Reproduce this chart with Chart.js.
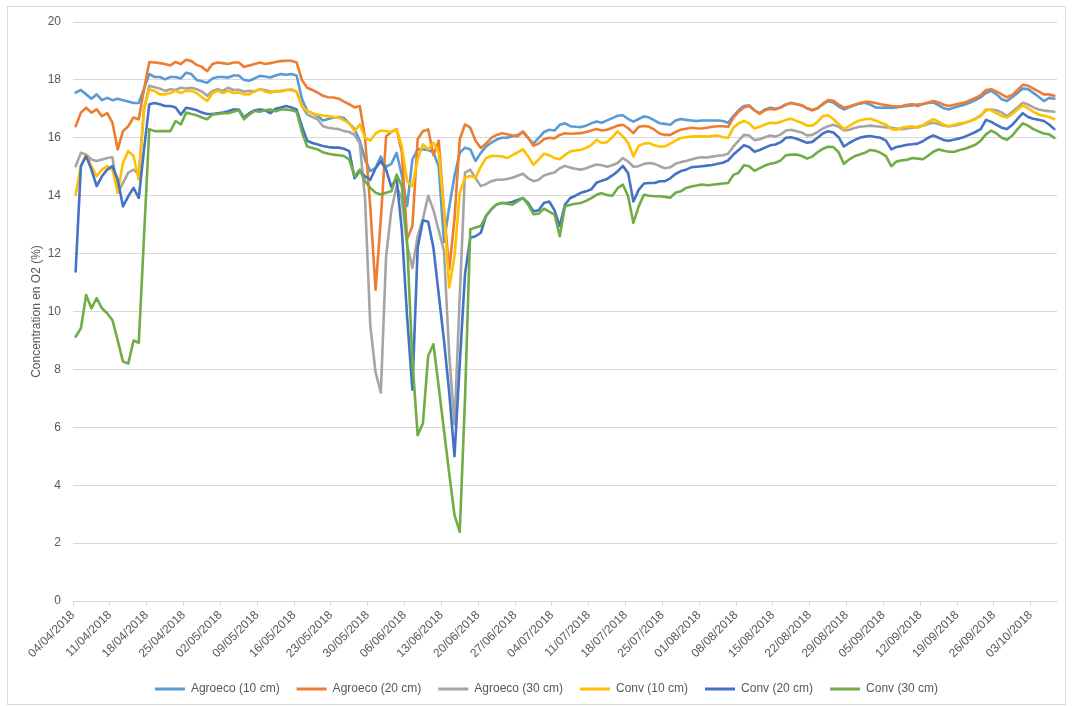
<!DOCTYPE html>
<html>
<head>
<meta charset="utf-8">
<title>Concentration en O2</title>
<script src="https://cdn.jsdelivr.net/npm/chart.js@4.4.1/dist/chart.umd.min.js"></script>
<style>
    html, body { margin: 0; padding: 0; background: #fff; }
    #wrap { position: relative; width: 1073px; height: 706px; }
    #frame {
        position: absolute; left: 7px; top: 6px; width: 1059px; height: 699px;
        border: 1px solid #d9d9d9; box-sizing: border-box;
    }
    #o2Chart { position: absolute; left: 0; top: 0; }
</style>
</head>
<body>
<div id="wrap">
    <div id="frame"></div>
    <canvas id="o2Chart" width="1073" height="706"></canvas>
</div>
<script>
// Daily O2 readings (%), one value per day starting 04/04/2018
const agroeco10 = [
    17.56, 17.65, 17.5, 17.35, 17.5, 17.3, 17.38, 17.3, 17.35, 17.3,
    17.25, 17.2, 17.2, 17.7, 18.2, 18.1, 18.1, 18.02, 18.1, 18.1,
    18.05, 18.25, 18.2, 18.0, 17.95, 17.9, 18.05, 18.1, 18.1, 18.08,
    18.15, 18.15, 18.0, 17.97, 18.05, 18.14, 18.12, 18.08, 18.15, 18.2,
    18.18, 18.2, 18.15, 17.35, 16.93, 16.85, 16.75, 16.6, 16.65, 16.7,
    16.72, 16.68, 16.5, 16.3, 15.9, 15.25, 14.85, 14.96, 15.35, 15.0,
    15.1, 15.48, 14.7, 13.64, 15.25, 15.6, 15.6, 15.58, 15.5, 15.0,
    12.4, 13.6, 14.68, 15.48, 15.66, 15.6, 15.2, 15.48, 15.7, 15.83,
    15.94, 16.0, 16.0, 16.05, 16.1, 16.2, 16.0, 15.8, 16.0, 16.2,
    16.28, 16.25, 16.45, 16.5, 16.4, 16.38, 16.37, 16.42, 16.5, 16.56,
    16.52, 16.6, 16.68, 16.76, 16.78, 16.65, 16.56, 16.65, 16.74, 16.7,
    16.6, 16.5, 16.48, 16.45, 16.6, 16.65, 16.62, 16.6, 16.58, 16.6,
    16.6, 16.6, 16.6, 16.58, 16.52, 16.75, 16.95, 17.1, 17.12, 16.95,
    16.85, 16.98, 17.04, 17.0, 17.05, 17.15, 17.2, 17.16, 17.12, 17.02,
    16.95, 17.02, 17.15, 17.27, 17.22, 17.08, 16.98, 17.05, 17.12, 17.18,
    17.21, 17.15, 17.05, 17.04, 17.05, 17.03, 17.05, 17.08, 17.1, 17.12,
    17.15, 17.17, 17.2, 17.22, 17.12, 17.02, 16.98, 17.05, 17.1, 17.15,
    17.22, 17.3, 17.4, 17.55, 17.62, 17.5, 17.33, 17.27, 17.4, 17.55,
    17.7, 17.68, 17.55, 17.42, 17.27, 17.38, 17.35
];

const agroeco20 = [
    16.4, 16.87, 17.04, 16.87, 16.98, 16.75, 16.85, 16.52, 15.6, 16.23,
    16.4, 16.7, 16.64, 17.68, 18.62, 18.6, 18.58, 18.55, 18.5, 18.62,
    18.55, 18.7, 18.65, 18.52, 18.45, 18.3, 18.55, 18.6, 18.58, 18.55,
    18.6, 18.6, 18.45, 18.5, 18.55, 18.6, 18.55, 18.58, 18.62, 18.65,
    18.66, 18.66, 18.6, 18.0, 17.73, 17.65, 17.56, 17.45, 17.4, 17.39,
    17.35, 17.25, 17.16, 17.05, 17.1, 16.0, 13.6, 10.75, 13.2, 16.05,
    16.2, 16.3, 15.5, 12.5, 12.95, 15.95, 16.23, 16.29, 15.4, 15.9,
    13.5, 11.45, 13.2, 15.95, 16.46, 16.35, 15.9, 15.65, 15.8, 16.0,
    16.1, 16.16, 16.12, 16.08, 16.05, 16.22, 16.0, 15.72, 15.8, 15.95,
    16.0, 15.98, 16.1, 16.16, 16.14, 16.15, 16.16, 16.2, 16.25, 16.3,
    16.25, 16.28, 16.35, 16.42, 16.45, 16.33, 16.16, 16.38, 16.41, 16.38,
    16.28, 16.15, 16.1, 16.1, 16.2, 16.28, 16.31, 16.35, 16.33, 16.32,
    16.35, 16.38, 16.4, 16.4, 16.38, 16.7, 16.9, 17.05, 17.1, 16.95,
    16.82, 16.95, 17.0, 16.98, 17.05, 17.15, 17.21, 17.16, 17.12, 17.02,
    16.95, 17.02, 17.18, 17.3, 17.28, 17.15, 17.04, 17.08, 17.14, 17.2,
    17.24, 17.24, 17.2, 17.16, 17.13, 17.1, 17.08, 17.1, 17.14, 17.16,
    17.1, 17.17, 17.22, 17.27, 17.22, 17.14, 17.1, 17.14, 17.18, 17.22,
    17.3, 17.38, 17.47, 17.65, 17.68, 17.6, 17.5, 17.4, 17.48, 17.65,
    17.83, 17.8, 17.7, 17.6, 17.5, 17.5, 17.45
];

const agroeco30 = [
    15.02, 15.48, 15.42, 15.25, 15.2, 15.25, 15.3, 15.33, 14.1, 14.44,
    14.8, 14.9, 14.75, 17.0, 17.8, 17.75, 17.7, 17.62, 17.68, 17.65,
    17.73, 17.7, 17.73, 17.68, 17.6, 17.45, 17.62, 17.68, 17.62, 17.73,
    17.65, 17.66, 17.6, 17.62, 17.6, 17.68, 17.65, 17.6, 17.6, 17.62,
    17.65, 17.65, 17.6, 17.1, 16.8, 16.72, 16.64, 16.4, 16.35, 16.32,
    16.3, 16.23, 16.2, 16.1, 15.8, 13.9, 9.5, 7.9, 7.2, 11.9,
    13.5, 14.33, 13.87, 12.3, 11.5, 12.6, 13.2, 14.0, 13.5, 12.8,
    12.1, 8.5, 6.1, 10.5, 14.8, 14.9, 14.6, 14.33, 14.4, 14.5,
    14.55, 14.55, 14.58, 14.62, 14.69, 14.76, 14.6, 14.5, 14.55, 14.7,
    14.76, 14.8, 14.95, 15.03, 14.97, 14.93, 14.9, 14.95, 15.02, 15.08,
    15.05, 15.0, 15.05, 15.13, 15.3, 15.18, 15.0, 15.02, 15.1, 15.13,
    15.1, 15.02, 14.95, 14.98, 15.1, 15.16, 15.2, 15.25, 15.3, 15.33,
    15.32, 15.35, 15.38, 15.4, 15.45, 15.7, 15.9, 16.1, 16.08, 15.92,
    15.95, 16.02, 16.08, 16.04, 16.12, 16.25, 16.28, 16.23, 16.18, 16.08,
    16.1, 16.2, 16.32, 16.4, 16.45, 16.38, 16.25, 16.28, 16.34, 16.38,
    16.4, 16.42, 16.4, 16.38, 16.36, 16.35, 16.32, 16.3, 16.32, 16.35,
    16.38, 16.42, 16.48, 16.52, 16.48, 16.42, 16.4, 16.42, 16.46, 16.52,
    16.58, 16.66, 16.78, 16.95, 16.98, 16.95, 16.87, 16.75, 16.9, 17.05,
    17.21, 17.15, 17.05, 16.98, 16.94, 16.92, 16.9
];

const conv10 = [
    14.04, 15.02, 15.42, 15.02, 14.67, 14.9, 15.02, 14.9, 14.1, 15.14,
    15.54, 15.37, 14.56, 17.0, 17.68, 17.62, 17.5, 17.5, 17.55, 17.62,
    17.55, 17.62, 17.62, 17.55, 17.4, 17.27, 17.55, 17.62, 17.55, 17.62,
    17.55, 17.56, 17.5, 17.5, 17.6, 17.68, 17.6, 17.55, 17.62, 17.6,
    17.65, 17.68, 17.6, 17.1, 16.93, 16.85, 16.8, 16.77, 16.75, 16.72,
    16.7, 16.6, 16.5, 16.23, 16.46, 16.0, 15.9, 16.15, 16.25, 16.23,
    16.2, 16.3, 15.7, 14.5, 14.33, 15.25, 15.77, 15.6, 15.83, 15.5,
    13.5, 10.83, 11.92, 14.1, 14.62, 14.68, 14.62, 15.0, 15.3, 15.37,
    15.37, 15.36, 15.3, 15.4, 15.5, 15.6, 15.36, 15.07, 15.25, 15.45,
    15.4, 15.3, 15.26, 15.41, 15.53, 15.56, 15.59, 15.65, 15.75, 15.93,
    15.82, 15.85, 16.02, 16.22, 16.05, 15.82, 15.36, 15.72, 15.8, 15.82,
    15.74, 15.7, 15.7, 15.8, 15.9, 15.99, 16.02, 16.04, 16.05, 16.05,
    16.04, 16.06, 16.08, 16.02, 16.0, 16.35, 16.5, 16.58, 16.5, 16.32,
    16.38, 16.46, 16.52, 16.5, 16.55, 16.62, 16.66, 16.58, 16.52, 16.42,
    16.42, 16.55, 16.75, 16.78, 16.64, 16.48, 16.3, 16.4, 16.52, 16.6,
    16.64, 16.66, 16.6, 16.52, 16.46, 16.3, 16.28, 16.35, 16.38, 16.4,
    16.35, 16.42, 16.55, 16.64, 16.56, 16.45, 16.4, 16.45, 16.5, 16.52,
    16.58, 16.65, 16.75, 16.98, 16.95, 16.85, 16.75, 16.7, 16.82, 16.98,
    17.12, 17.02, 16.9, 16.8, 16.76, 16.72, 16.64
];

const conv20 = [
    11.38, 15.02, 15.37, 14.9, 14.33, 14.67, 14.9, 15.02, 14.56, 13.63,
    13.98, 14.27, 13.92, 15.6, 17.16, 17.2, 17.16, 17.1, 17.1, 17.05,
    16.8, 17.04, 17.0, 16.95, 16.87, 16.82, 16.82, 16.85, 16.87, 16.92,
    16.98, 16.98, 16.7, 16.85, 16.95, 16.98, 16.95, 16.85, 17.0, 17.05,
    17.1, 17.05, 16.98, 16.4, 15.9, 15.82, 15.77, 15.72, 15.68, 15.66,
    15.66, 15.62, 15.54, 14.6, 14.85, 14.67, 14.55, 14.95, 15.2, 14.9,
    14.3, 14.6, 12.8, 9.8, 7.3, 12.2, 13.15, 13.1, 12.2, 10.6,
    9.0, 7.2, 5.0, 8.2, 11.3, 12.55, 12.6, 12.72, 13.3, 13.53,
    13.7, 13.75, 13.75, 13.78, 13.85, 13.92, 13.75, 13.46, 13.5, 13.75,
    13.8, 13.5, 12.95, 13.69, 13.92, 14.0, 14.1, 14.15, 14.22, 14.45,
    14.52, 14.58, 14.7, 14.84, 15.03, 14.78, 13.8, 14.2, 14.42, 14.44,
    14.44, 14.5, 14.5, 14.6, 14.75, 14.85, 14.9, 14.98, 15.0, 15.02,
    15.04, 15.06, 15.1, 15.14, 15.22, 15.42, 15.58, 15.74, 15.68, 15.52,
    15.58, 15.66, 15.74, 15.77, 15.85, 16.0, 16.02, 15.97, 15.9, 15.83,
    15.86, 16.0, 16.15, 16.23, 16.18, 16.02, 15.7, 15.82, 15.92, 16.0,
    16.04, 16.06, 16.03, 16.0, 15.9, 15.6, 15.68, 15.72, 15.76, 15.78,
    15.8, 15.88, 16.0, 16.08, 16.0, 15.92, 15.9, 15.94, 15.98, 16.04,
    16.12, 16.2, 16.3, 16.62, 16.55, 16.45, 16.35, 16.3, 16.45, 16.65,
    16.85, 16.72, 16.66, 16.62, 16.58, 16.46, 16.3
];

const conv30 = [
    9.13, 9.42, 10.57, 10.11, 10.46, 10.11, 9.94, 9.7, 9.0, 8.27,
    8.2, 9.0, 8.92, 12.6, 16.3, 16.23, 16.23, 16.23, 16.23, 16.58,
    16.46, 16.87, 16.82, 16.78, 16.7, 16.64, 16.8, 16.82, 16.85, 16.85,
    16.9, 16.95, 16.64, 16.8, 16.93, 16.9, 16.95, 16.98, 16.92, 16.98,
    16.98, 16.95, 16.9, 16.2, 15.7, 15.65, 15.6, 15.5, 15.45, 15.42,
    15.4, 15.37, 15.25, 14.67, 14.9, 14.5, 14.27, 14.1, 14.04, 14.1,
    14.15, 14.73, 14.33, 12.37, 8.3, 5.73, 6.14, 8.47, 8.87, 7.4,
    5.9, 4.4, 2.97, 2.39, 7.0, 12.84, 12.9, 12.95, 13.3, 13.53,
    13.7, 13.75, 13.72, 13.69, 13.8, 13.92, 13.69, 13.36, 13.38, 13.55,
    13.45, 13.35, 12.6, 13.63, 13.69, 13.72, 13.75, 13.82, 13.92, 14.03,
    14.09, 14.02, 14.0, 14.26, 14.38, 13.98, 13.06, 13.63, 14.03, 14.0,
    13.98, 13.98, 13.96, 13.93, 14.1, 14.15, 14.27, 14.32, 14.35, 14.39,
    14.36, 14.38, 14.4, 14.42, 14.44, 14.72, 14.79, 15.05, 15.02, 14.86,
    14.95, 15.04, 15.1, 15.14, 15.22, 15.4, 15.42, 15.42, 15.37, 15.28,
    15.35, 15.5, 15.62, 15.69, 15.68, 15.5, 15.1, 15.25, 15.36, 15.42,
    15.48, 15.58, 15.55, 15.48, 15.37, 15.02, 15.18, 15.22, 15.24, 15.3,
    15.28, 15.26, 15.38, 15.52, 15.6, 15.55, 15.52, 15.52, 15.58, 15.62,
    15.69, 15.76, 15.9, 16.12, 16.25, 16.15, 16.0, 15.93, 16.08, 16.3,
    16.5, 16.42, 16.3, 16.22, 16.15, 16.12, 16.0
];

const seriesNames = ['Agroeco (10 cm)', 'Agroeco (20 cm)', 'Agroeco (30 cm)', 'Conv (10 cm)', 'Conv (20 cm)', 'Conv (30 cm)'];
const seriesValues = [agroeco10, agroeco20, agroeco30, conv10, conv20, conv30];
const seriesColors = ['#5b9bd5', '#ed7d31', '#a5a5a5', '#ffc000', '#4472c4', '#70ad47'];

const startDay = Date.UTC(2018, 3, 4);
const dayCount = 187;

function dayLabel(d) {
    const t = new Date(startDay + d * 86400000);
    const dd = String(t.getUTCDate()).padStart(2, '0');
    const mm = String(t.getUTCMonth() + 1).padStart(2, '0');
    return `${dd}/${mm}/${t.getUTCFullYear()}`;
}

const textColor = '#595959';
const gridColor = '#d9d9d9';
const fontFamily = "'Liberation Sans Narrow', 'Liberation Sans', sans-serif";

Chart.defaults.font.family = fontFamily;
Chart.defaults.font.size = 12;
Chart.defaults.color = textColor;

// keep the legend centred under the plot rather than the whole canvas
const legendShift = {
    id: 'legendShift',
    afterLayout(chart) {
        chart.legend.left += 18;
        chart.legend.right += 18;
    }
};

// each reading sits in the middle of its day slot
const datasets = seriesNames.map((name, i) => ({
    label: name,
    data: seriesValues[i].map((v, d) => ({ x: d + 0.5, y: v })),
    borderColor: seriesColors[i],
    backgroundColor: seriesColors[i],
    borderWidth: 2.6,
    pointRadius: 0,
    pointHoverRadius: 0,
    tension: 0,
    fill: false,
    borderJoinStyle: 'round',
    borderCapStyle: 'round',
    order: seriesNames.length - 1 - i,
}));

new Chart(document.getElementById('o2Chart'), {
    type: 'line',
    data: { datasets },
    plugins: [legendShift],
    options: {
        responsive: false,
        animation: false,
        devicePixelRatio: 1,
        layout: { padding: { left: 0, right: 16, top: 22, bottom: 1 } },
        plugins: {
            tooltip: { enabled: false },
            legend: {
                position: 'bottom',
                labels: {
                    boxWidth: 30,
                    boxHeight: 3,
                    padding: 17,
                    color: textColor,
                    font: { size: 12 },
                    sort: (a, b) => a.datasetIndex - b.datasetIndex,
                    generateLabels: (chart) =>
                        Chart.defaults.plugins.legend.labels.generateLabels(chart)
                            .map(l => ({ ...l, fillStyle: l.strokeStyle, lineWidth: 0 })),
                }
            }
        },
        scales: {
            x: {
                type: 'linear',
                min: 0,
                max: dayCount,
                afterFit: (scale) => { scale.height = 65; },
                border: { color: gridColor },
                grid: { drawOnChartArea: false, drawTicks: true, tickLength: 5, color: gridColor },
                ticks: {
                    stepSize: 7,
                    includeBounds: false,
                    autoSkip: false,
                    minRotation: 45,
                    maxRotation: 45,
                    padding: 2,
                    color: textColor,
                    callback: (v) => dayLabel(v),
                }
            },
            y: {
                min: 0,
                max: 20,
                afterFit: (scale) => { scale.width = 73; },
                border: { display: false },
                grid: { color: gridColor, drawTicks: false },
                ticks: { stepSize: 2, padding: 12, color: textColor },
                title: {
                    display: true,
                    text: 'Concentration en O2 (%)',
                    color: textColor,
                    font: { size: 12 },
                    padding: { top: 29, bottom: 0 },
                }
            }
        }
    }
});
</script>
</body>
</html>
